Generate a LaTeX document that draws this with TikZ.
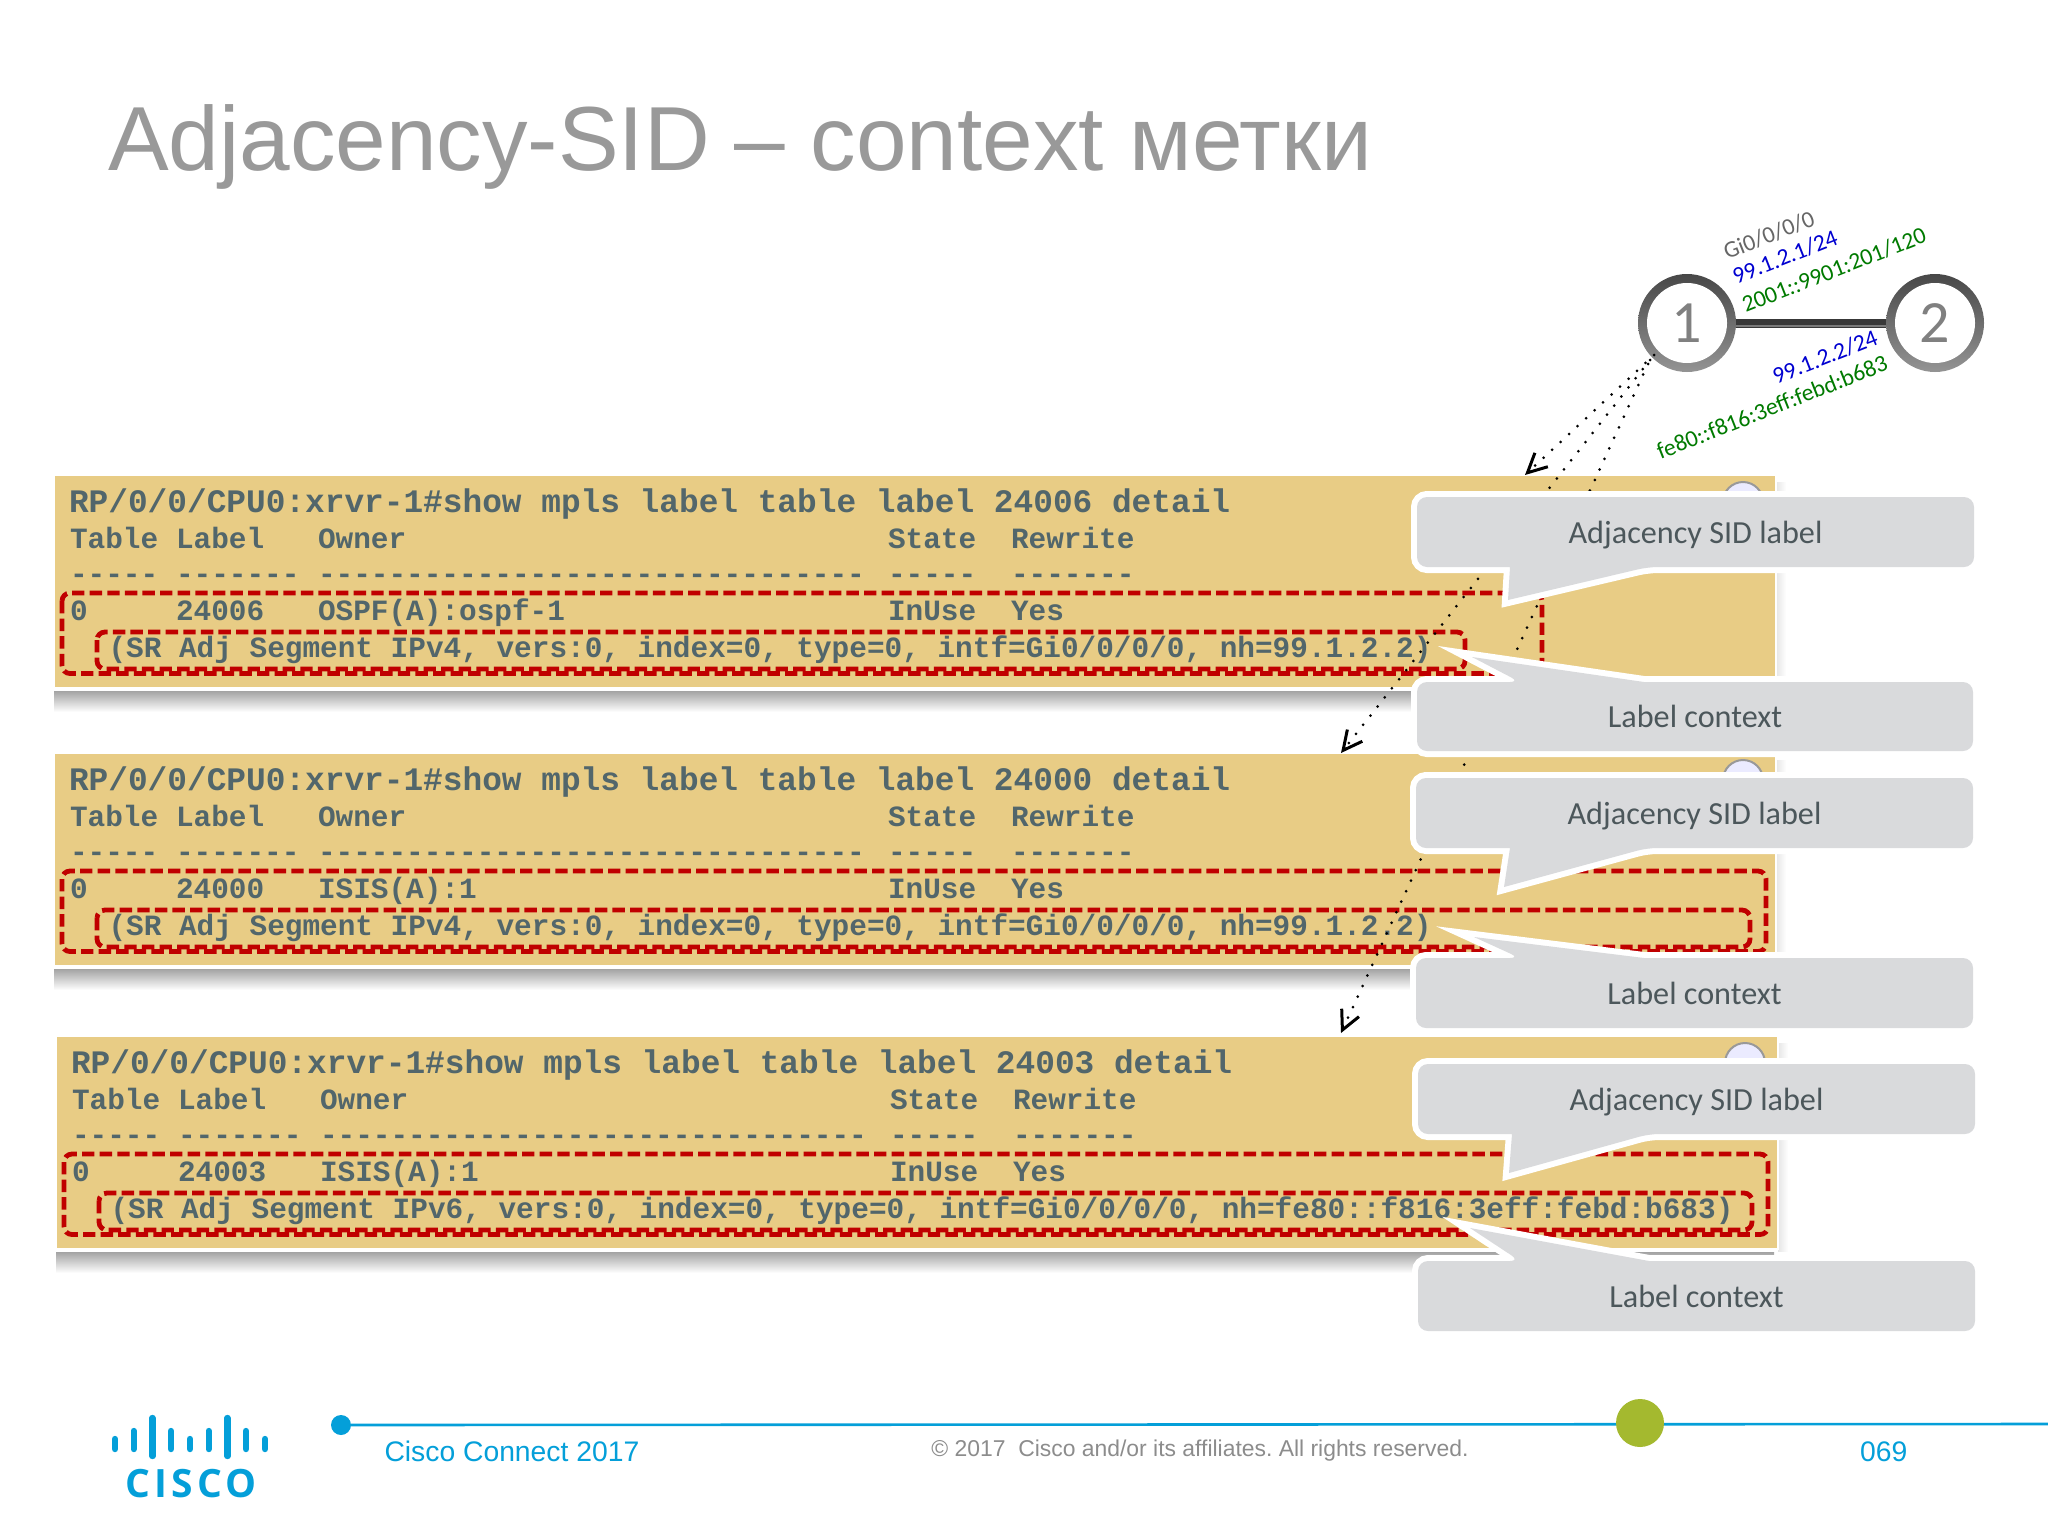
\documentclass[tikz,border=0pt]{standalone}
\usepackage{fontspec}
\usetikzlibrary{arrows.meta}
\setmainfont{Liberation Sans}
\newfontfamily\codefont{Liberation Mono}
\newfontfamily\carl{Carlito}
\newfontfamily\logofont[LetterSpace=11]{Open Sans}
\definecolor{panelbg}{HTML}{E8CC85}
\definecolor{codetxt}{HTML}{52666B}
\definecolor{redbox}{HTML}{C00000}
\definecolor{calloutgray}{HTML}{D9DADC}
\definecolor{callouttxt}{HTML}{4C575B}
\definecolor{ciscoblue}{HTML}{049FD9}
\definecolor{apple}{HTML}{A4B92F}
\definecolor{netblue}{HTML}{0000D0}
\definecolor{netgreen}{HTML}{007A00}
\tikzset{
  txt/.style={inner sep=0pt,outer sep=0pt,anchor=base west},
  headtxt/.style={txt,text=codetxt,font=\codefont\bfseries\fontsize{16.4}{18}\selectfont},
  rowtxt/.style={txt,text=codetxt,font=\codefont\bfseries\fontsize{14.7}{17}\selectfont},
  panelbox/.style={draw=white,line width=1pt,fill=panelbg,inner sep=0pt,outer sep=0pt},
  redframe/.style={draw=redbox,line width=2.4pt,rounded corners=4pt,dash pattern=on 6.2pt off 2.6pt},
  ringnode/.style={circle,inner sep=0pt,outer sep=0pt,minimum size=49pt,top color=black!72,bottom color=black!42},
  ringinner/.style={circle,inner sep=0pt,fill=white,minimum size=40pt,text=black!50,font=\carl\fontsize{30}{32}\selectfont},
  netlabel/.style={inner sep=0pt,rotate=21.5,font=\carl\fontsize{11.8}{13}\selectfont},
  dotarrow/.style={line width=1.5pt,line cap=round,dash pattern=on 0pt off 5.8pt,
     -{Straight Barb[length=9.5pt,width=9.5pt,line width=1.5pt,line cap=butt]}},
  calltxt/.style={inner sep=0pt,text=callouttxt,font=\carl\fontsize{16.1}{18}\selectfont},
  footblue/.style={inner sep=0pt,outer sep=0pt,anchor=base west,text=ciscoblue,font=\fontsize{14.15}{16}\selectfont},
  logobar/.style={line width=3.2pt,line cap=round,ciscoblue}
}
\newcommand{\codepanel}[8]{%
 \begin{scope}[shift={(#2,#3)}]
  \shade[top color=black!36,bottom color=white] (54,691) rectangle (1772,712);
  \shade[left color=black!10,right color=white] (1776,482) rectangle (1786,690);
  \node[panelbox,minimum width=861pt,minimum height=106.5pt] (#1box) at (915,581.5) {};
  \node[circle,draw=black!40,line width=1pt,fill=blue!8!white,minimum size=20pt,inner sep=0pt] (#1glass) at (1743,502) {};
  \node[headtxt] (#1head) at (69,512) {RP/0/0/CPU0:xrvr-1\#show mpls label table label #4 detail};
  \node[rowtxt] (#1c1) at (70,548) {Table};
  \node[rowtxt] (#1c2) at (176,548) {Label};
  \node[rowtxt] (#1c3) at (318,548) {Owner};
  \node[rowtxt] (#1c4) at (888,548) {State};
  \node[rowtxt] (#1c5) at (1011,548) {Rewrite};
  \node[rowtxt] (#1d1) at (70,583) {{-}{-}{-}{-}{-}};
  \node[rowtxt] (#1d2) at (176,583) {{-}{-}{-}{-}{-}{-}{-}};
  \node[rowtxt] (#1d3) at (318,583) {{-}{-}{-}{-}{-}{-}{-}{-}{-}{-}{-}{-}{-}{-}{-}{-}{-}{-}{-}{-}{-}{-}{-}{-}{-}{-}{-}{-}{-}{-}{-}};
  \node[rowtxt] (#1d4) at (888,583) {{-}{-}{-}{-}{-}};
  \node[rowtxt] (#1d5) at (1011,583) {{-}{-}{-}{-}{-}{-}{-}};
  \node[rowtxt] (#1v1) at (70,620) {0};
  \node[rowtxt] (#1v2) at (176,620) {#4};
  \node[rowtxt] (#1v3) at (318,620) {#5};
  \node[rowtxt] (#1v4) at (888,620) {InUse};
  \node[rowtxt] (#1v5) at (1011,620) {Yes};
  \node[rowtxt] (#1sr) at (108.5,657) {#6};
  \draw[redframe] (62,593) rectangle (#7,673.5);
  \draw[redframe] (97,632) rectangle (#8,669);
 \end{scope}}
\newcommand{\calloutA}[9]{%
 \path[preaction={draw=white,line width=6pt,miter limit=12},fill=calloutgray,rounded corners=5pt]
   (#6,#5) -- (#2,#5) -- (#2,#3) -- (#4,#3) -- (#4,#5) -- (#7,#5) [sharp corners] -- (#8,#9) -- cycle;
 \node[calltxt] (#1) at ({(#2+#4)/2},{(#3+#5)/2+3}) {Adjacency SID label};}
\newcommand{\calloutL}[9]{%
 \path[preaction={draw=white,line width=6pt,miter limit=12},fill=calloutgray,rounded corners=5pt]
   (#7,#3) -- (#4,#3) -- (#4,#5) -- (#2,#5) -- (#2,#3) -- (#6,#3) [sharp corners] -- (#8,#9) -- cycle;
 \node[calltxt] (#1) at ({(#2+#4)/2},{(#3+#5)/2}) {Label context};}
\begin{document}
\begin{tikzpicture}[x=0.5pt,y=-0.5pt]
\useasboundingbox (0,0) rectangle (2048,1536);
\frenchspacing
% title
\node[txt,text=black!40,font=\fontsize{45.5}{50}\selectfont] (title) at (108,170) {Adjacency-SID – context метки};
% network
\node[ringnode] (n1) at (1687,323) {};
\node[ringnode] (n2) at (1935,323) {};
\draw[line width=4.5pt,black!78] (n1) -- (n2);
\draw[line width=1.2pt,black!52] ([yshift=-1.6pt]n1.east) -- ([yshift=-1.6pt]n2.west);
\node[ringinner] (n1in) at (n1) {1};
\node[ringinner] (n2in) at (n2) {2};
\node[netlabel,text=black!60] (l1) at (1769,235) {Gi0/0/0/0};
\node[netlabel,text=netblue] (l2) at (1785,257) {99.1.2.1/24};
\node[netlabel,text=netgreen] (l3) at (1834,270) {2001::9901:201/120};
\node[netlabel,text=netblue] (l4) at (1825,357) {99.1.2.2/24};
\node[netlabel,text=netgreen] (l5) at (1772,407) {fe80::f816:3eff:febd:b683};
% panels
\codepanel{pa}{0}{0}{24006}{OSPF(A):ospf-1}{(SR Adj Segment IPv4, vers:0, index=0, type=0, intf=Gi0/0/0/0, nh=99.1.2.2)}{1542}{1465}
\codepanel{pb}{0}{278}{24000}{ISIS(A):1}{(SR Adj Segment IPv4, vers:0, index=0, type=0, intf=Gi0/0/0/0, nh=99.1.2.2)}{1766}{1750}
\codepanel{pc}{2}{561}{24003}{ISIS(A):1}{(SR Adj Segment IPv6, vers:0, index=0, type=0, intf=Gi0/0/0/0, nh=fe80::f816:3eff:febd:b683)}{1766}{1750}
% dotted arrows
\coordinate (s1) at (1654,355);
\coordinate (s2) at (1650,360);
\coordinate (s3) at (1648,364);
\coordinate (e1) at (1525,475);
\coordinate (e2) at (1341,753);
\coordinate (e3) at (1341,1033);
\draw[dotarrow] (s1) -- (e1);
\draw[dotarrow] (s2) -- (e2);
\draw[dotarrow] (s3) -- (e3);
% callouts
\calloutA{ca}{1417}{497}{1974}{567}{1510}{1648}{1508}{600}
\calloutL{la}{1417}{682}{1973}{751}{1520}{1644}{1472}{657}
\calloutA{cb}{1416}{778}{1973}{848}{1510}{1647}{1504}{887}
\calloutL{lb}{1416}{958}{1973}{1028}{1520}{1644}{1474}{937}
\calloutA{cc}{1418}{1064}{1975}{1134}{1512}{1649}{1509}{1173}
\calloutL{lc}{1418}{1261}{1975}{1331}{1520}{1649}{1470}{1228}
% footer
\node[circle,fill=ciscoblue,minimum size=10pt,inner sep=0pt,outer sep=0pt] (fd) at (341,1425) {};
\coordinate (fe) at (2048,1424);
\draw[line width=1.3pt,ciscoblue] (fd) -- (fe);
\node[circle,fill=apple,minimum size=24pt,inner sep=0pt] (gd) at (1640,1423) {};
\node[footblue] (f1) at (384.5,1461) {Cisco Connect 2017};
\node[inner sep=0pt,anchor=base west,text=black!45,font=\fontsize{11.45}{14}\selectfont] (f2) at (931,1456) {© 2017\ \ Cisco and/or its affiliates. All rights reserved.};
\node[footblue] (f3) at (1860,1461) {069};
% logo
\draw[logobar] (115,1439) -- (115,1449);
\draw[logobar] (133.7,1431) -- (133.7,1449);
\draw[logobar] (152.4,1418) -- (152.4,1456);
\draw[logobar] (171,1431) -- (171,1449);
\draw[logobar] (190,1439) -- (190,1449);
\draw[logobar] (208.7,1431) -- (208.7,1449);
\draw[logobar] (227.4,1418) -- (227.4,1456);
\draw[logobar] (246,1431) -- (246,1449);
\draw[logobar] (265,1439) -- (265,1449);
\node[inner sep=0pt,anchor=base,text=ciscoblue,font=\logofont\bfseries\fontsize{19.5}{22}\selectfont] (logo) at (191,1497) {CISCO};
\end{tikzpicture}
\end{document}
